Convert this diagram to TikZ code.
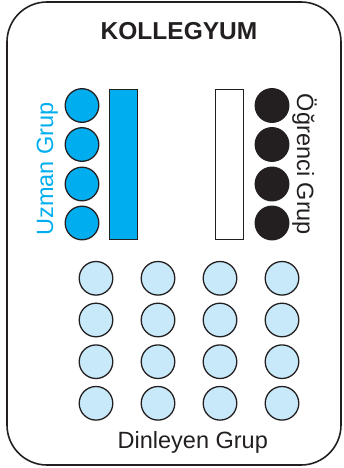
\documentclass[tikz,border=0pt]{standalone}
\usepackage{fontspec}
\setmainfont{Liberation Sans}
\usepackage{tikz}
\usetikzlibrary{positioning,shapes}

\definecolor{InkGray}{HTML}{231F20}
\definecolor{ProcCyan}{HTML}{00AEEF}
\definecolor{PaleCyan}{HTML}{C8E9F9}

\begin{document}
\begin{tikzpicture}[
                    x=1pt, y=-1pt,
                    every node/.append style = {font=\fontsize{23.5}{28}\selectfont, inner sep=0pt},
                    seat/.style = {circle, draw=InkGray, line width=1.3pt, minimum size=33.6pt},
                    expert/.style = {seat, fill=ProcCyan},
                    pupil/.style = {seat, fill=InkGray},
                    listener/.style = {seat, fill=PaleCyan},
                    bench/.style = {rectangle, draw=InkGray, line width=1.1pt, minimum width=28pt, minimum height=150pt},
                    grp/.style = {anchor=base}
                    ]

\useasboundingbox (0,0) rectangle (343,468);

% outer frame
\node[rectangle, draw=InkGray, line width=1.6pt, rounded corners=40pt,
      minimum width=334pt, minimum height=463pt] (room) at (174,233.5) {};

\node[grp, font=\fontsize{24.5}{29}\selectfont\bfseries, text=InkGray] (title) at (179,39.3) {KOLLEGYUM};

% expert group
\node[expert] (u1) at (82,105.5) {};
\node[expert] (u2) at (82,144.5) {};
\node[expert] (u3) at (82,184)   {};
\node[expert] (u4) at (82,223)   {};
\node[bench, fill=ProcCyan] (ubench) at (123.3,164.3) {};
\node[grp, rotate=90, text=ProcCyan] (ulabel) at (53,169) {Uzman Grup};

% student group
\node[bench, fill=white] (obench) at (229.2,164.3) {};
\node[pupil] (o1) at (272,105.5) {};
\node[pupil] (o2) at (272,144.5) {};
\node[pupil] (o3) at (272,184)   {};
\node[pupil] (o4) at (272,223)   {};
\node[grp, rotate=-90, text=InkGray] (olabel) at (297,164.5) {Öğrenci Grup};

% listeners
\node[listener] (d11) at (96,278.3)  {};
\node[listener] (d12) at (158,278.3) {};
\node[listener] (d13) at (220,278.3) {};
\node[listener] (d14) at (282,278.3) {};
\node[listener] (d21) at (96,320)    {};
\node[listener] (d22) at (158,320)   {};
\node[listener] (d23) at (220,320)   {};
\node[listener] (d24) at (282,320)   {};
\node[listener] (d31) at (96,361.7)  {};
\node[listener] (d32) at (158,361.7) {};
\node[listener] (d33) at (220,361.7) {};
\node[listener] (d34) at (282,361.7) {};
\node[listener] (d41) at (96,403.3)  {};
\node[listener] (d42) at (158,403.3) {};
\node[listener] (d43) at (220,403.3) {};
\node[listener] (d44) at (282,403.3) {};
\node[grp, text=InkGray] (dlabel) at (192.8,448.3) {Dinleyen Grup};
\end{tikzpicture}
\end{document}
